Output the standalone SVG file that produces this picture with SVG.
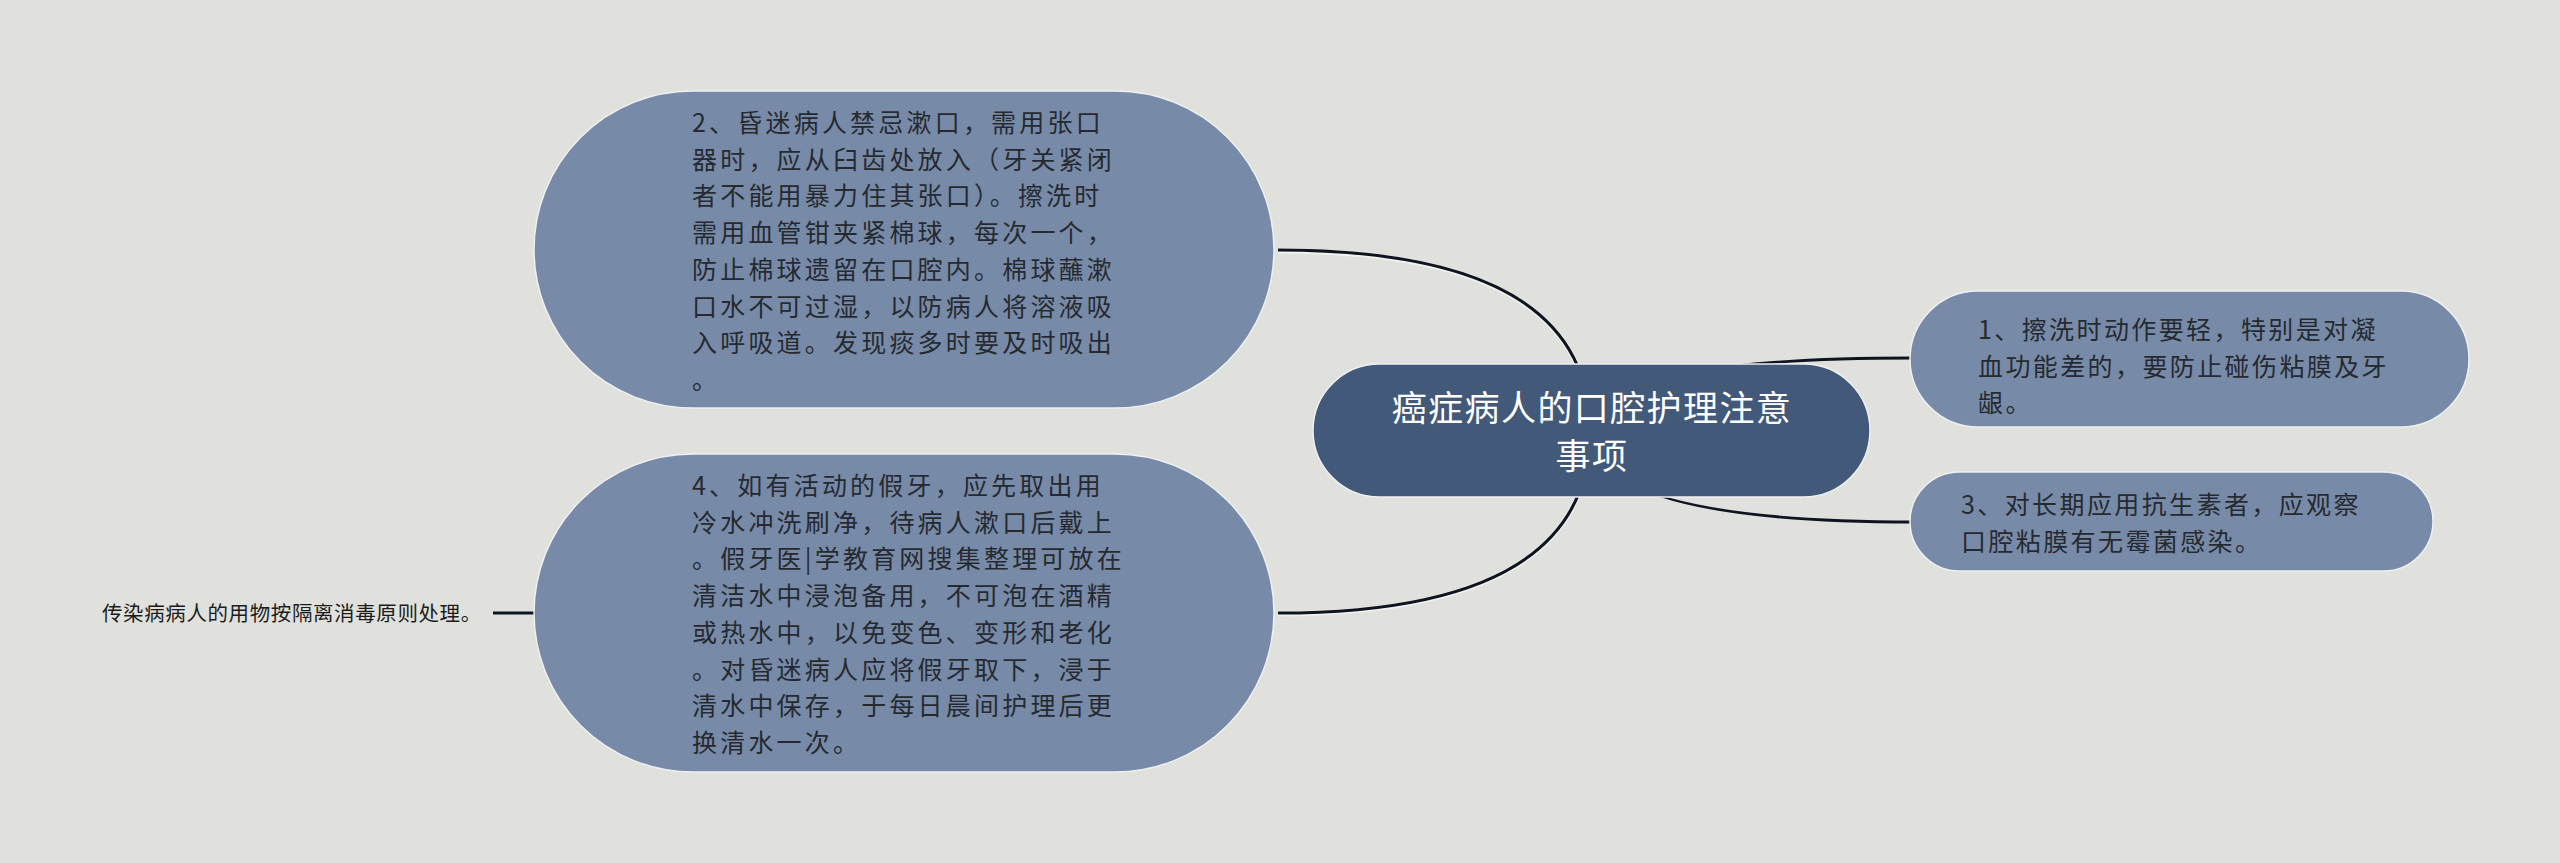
<svg xmlns="http://www.w3.org/2000/svg" width="2560" height="863" viewBox="0 0 2560 863">
<style>
.bg{fill:#e0e1dc}
.sub{fill:#778aa8;stroke:#eef0f3;stroke-width:1.5}
.main{fill:#42597a;stroke:#eef0f3;stroke-width:1.5}
.t{font-family:"Noto Sans CJK SC","Noto Sans",sans-serif;fill:#262a30}
.nt{font-size:25px;letter-spacing:3.2px}
.rt{letter-spacing:2.4px}
.mt{font-size:35px;letter-spacing:1.4px;fill:#ffffff;text-anchor:middle}
.line{fill:none;stroke:#0e1420;stroke-width:3;stroke-linecap:butt}
.halo{fill:none;stroke:#ffffff;stroke-opacity:0.55;stroke-width:5}
.taper{fill:#0e1420}
</style>
<rect class="bg" x="0" y="0" width="2560" height="863"/>
<g id="connectors">
<path class="halo" d="M1590,431 Q1590,251 1278,251"/>
<path class="line" d="M1590,431 Q1590,250 1278,250"/>
<path class="halo" d="M1590,431 Q1590,614 1278,614"/>
<path class="line" d="M1590,431 Q1590,613 1278,613"/>
<path class="taper" d="M1590,431 Q1590,356.5 1912,356.5 L1912,359.5 Q1590,359.5 1590,431 Z"/>
<path class="taper" d="M1590,431 Q1590,520.5 1914,520.5 L1914,523.5 Q1590,523.5 1590,431 Z"/>
<path class="line" d="M493,613 L536,613"/>
</g>
<g id="node-center">
<rect class="main" x="1313" y="364" width="557" height="133" rx="66.5" ry="66.5"/>
<text class="t mt" x="1592" y="421">癌症病人的口腔护理注意</text>
<text class="t mt" x="1592" y="469">事项</text>
</g>
<g id="node-2">
<rect class="sub" x="534" y="91" width="740" height="317" rx="158.5" ry="158.5"/>
<text class="t nt" x="692" y="132">2、昏迷病人禁忌漱口，需用张口</text>
<text class="t nt" x="692" y="168.7">器时，应从臼齿处放入（牙关紧闭</text>
<text class="t nt" x="692" y="205.4">者不能用暴力住其张口）。擦洗时</text>
<text class="t nt" x="692" y="242.1">需用血管钳夹紧棉球，每次一个，</text>
<text class="t nt" x="692" y="278.8">防止棉球遗留在口腔内。棉球蘸漱</text>
<text class="t nt" x="692" y="315.5">口水不可过湿，以防病人将溶液吸</text>
<text class="t nt" x="692" y="352.2">入呼吸道。发现痰多时要及时吸出</text>
<text class="t nt" x="692" y="388.9">。</text>
</g>
<g id="node-4">
<rect class="sub" x="534" y="454" width="740" height="318" rx="159" ry="159"/>
<text class="t nt" x="692" y="495">4、如有活动的假牙，应先取出用</text>
<text class="t nt" x="692" y="531.7">冷水冲洗刷净，待病人漱口后戴上</text>
<text class="t nt" x="692" y="568.4">。假牙医|学教育网搜集整理可放在</text>
<text class="t nt" x="692" y="605.1">清洁水中浸泡备用，不可泡在酒精</text>
<text class="t nt" x="692" y="641.8">或热水中，以免变色、变形和老化</text>
<text class="t nt" x="692" y="678.5">。对昏迷病人应将假牙取下，浸于</text>
<text class="t nt" x="692" y="715.2">清水中保存，于每日晨间护理后更</text>
<text class="t nt" x="692" y="751.9">换清水一次。</text>
</g>
<g id="node-1">
<rect class="sub" x="1910" y="291" width="559" height="136" rx="68" ry="68"/>
<text class="t nt rt" x="1978" y="339">1、擦洗时动作要轻，特别是对凝</text>
<text class="t nt rt" x="1978" y="375.7">血功能差的，要防止碰伤粘膜及牙</text>
<text class="t nt rt" x="1978" y="412.4">龈。</text>
</g>
<g id="node-3">
<rect class="sub" x="1910" y="472" width="523" height="99" rx="49.5" ry="49.5"/>
<text class="t nt rt" x="1961" y="514">3、对长期应用抗生素者，应观察</text>
<text class="t nt rt" x="1961" y="550.7">口腔粘膜有无霉菌感染。</text>
</g>
<g id="node-5">
<text class="t" x="102" y="620.5" style="font-size:20.5px;letter-spacing:0.6px;fill:#1c1c1c">传染病病人的用物按隔离消毒原则处理。</text>
</g>
</svg>
